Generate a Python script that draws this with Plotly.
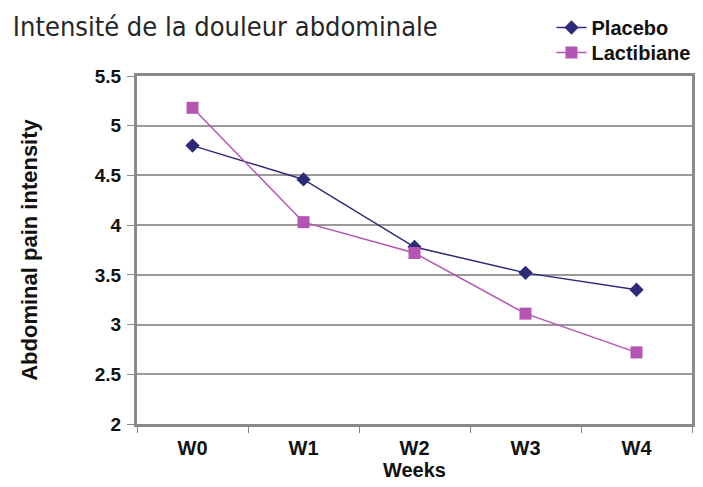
import plotly.graph_objects as go

weeks = ["W0", "W1", "W2", "W3", "W4"]
placebo = [4.80, 4.46, 3.78, 3.52, 3.35]
lactibiane = [5.18, 4.03, 3.72, 3.11, 2.72]
y_ticks = [2, 2.5, 3, 3.5, 4, 4.5, 5, 5.5]
y_ticklabels = ["2", "2.5", "3", "3.5", "4", "4.5", "5", "5.5"]

fig = go.Figure()
fig.add_trace(go.Scatter(
    x=weeks, y=placebo, name="Placebo", mode="lines+markers",
    line=dict(color="#2d2a78", width=1.5),
    marker=dict(symbol="diamond", size=11, color="#2d2a78"),
    legend="legend",
))
fig.add_trace(go.Scatter(
    x=weeks, y=lactibiane, name="Lactibiane", mode="lines+markers",
    line=dict(color="#b455b4", width=1.5),
    marker=dict(symbol="square", size=12, color="#b455b4"),
    legend="legend2",
))

font_b = "Liberation Sans, Arial, sans-serif"
leg_font = dict(family=font_b, size=20, color="#111111", weight="bold")

fig.update_layout(
    width=695, height=479,
    margin=dict(l=129, r=11, t=68, b=63, autoexpand=False),
    paper_bgcolor="white", plot_bgcolor="white",
    title=dict(
        text="Intensité de la douleur abdominale",
        x=0.007, xanchor="left", y=0.962, yanchor="middle",
        xref="container", yref="container",
        font=dict(family="DejaVu Sans Condensed, sans-serif", size=27, color="#262626"),
    ),
    legend=dict(
        x=0.782, y=1.0, xanchor="left", yanchor="top",
        xref="container", yref="container",
        font=leg_font, bgcolor="rgba(0,0,0,0)", itemwidth=30,
    ),
    legend2=dict(
        x=0.782, y=0.948, xanchor="left", yanchor="top",
        xref="container", yref="container",
        font=leg_font, bgcolor="rgba(0,0,0,0)", itemwidth=30,
    ),
    showlegend=True,
)

fig.update_xaxes(
    type="category", range=[-0.5, 4.5], automargin=False,
    showgrid=False, zeroline=False,
    showline=True, linecolor="#8a8a8a", linewidth=3, mirror=True,
    ticks="outside", tickson="boundaries", ticklen=6, tickcolor="#8a8a8a",
    ticklabelstandoff=4,
    tickfont=dict(family=font_b, size=20, color="#111111", weight="bold"),
    title=dict(text="Weeks", standoff=3,
               font=dict(family=font_b, size=20, color="#111111", weight="bold")),
)
fig.update_yaxes(
    range=[2, 5.5], tickvals=y_ticks, ticktext=y_ticklabels, automargin=False,
    showgrid=True, gridcolor="#9a9a9a", gridwidth=1.5, zeroline=False,
    showline=True, linecolor="#8a8a8a", linewidth=3, mirror=True,
    ticks="outside", ticklen=7, tickcolor="#8a8a8a",
    ticklabelstandoff=2,
    tickfont=dict(family=font_b, size=19, color="#111111", weight="bold"),
    title=dict(text="Abdominal pain intensity", standoff=52,
               font=dict(family=font_b, size=22, color="#111111", weight="bold")),
)

fig.write_html("out.html")
